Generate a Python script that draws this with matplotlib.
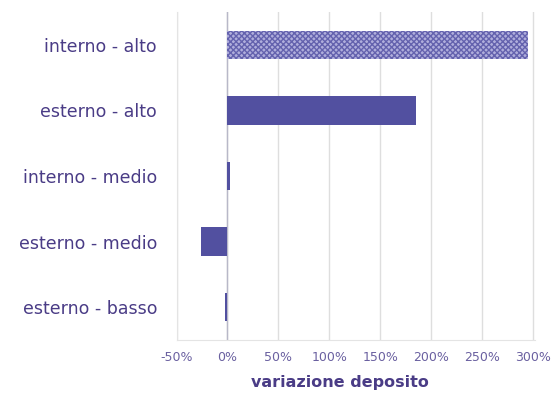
import matplotlib
matplotlib.use("Agg")
import matplotlib.pyplot as plt
from matplotlib.ticker import FuncFormatter

plt.rcParams['font.family'] = ['DejaVu Sans']

categories = ["interno - alto", "esterno - alto", "interno - medio",
              "esterno - medio", "esterno - basso"]
values = [295, 185, 3, -26, -2]
xticks = [-50, 0, 50, 100, 150, 200, 250, 300]

bar_color = "#5250a0"
text_color = "#4a3c86"

fig = plt.figure(figsize=(5.57, 4.07), dpi=100)
ax = fig.add_axes([176.5 / 557, 1 - 340 / 407, (535 - 176.5) / 557, (340 - 12) / 407])

ypos = list(range(len(categories)))[::-1]
bars = ax.barh(ypos, values, height=0.43, color=bar_color, zorder=3)
# first bar is patterned
bars[0].set_facecolor("#b0aedc")
bars[0].set_edgecolor("#6462ae")
bars[0].set_hatch("xxxxxx")
bars[0].set_linewidth(0)

ax.set_xlim(-50, 302)
ax.set_ylim(-0.5, len(categories) - 0.5)
ax.set_xticks(xticks)
ax.xaxis.set_major_formatter(FuncFormatter(lambda v, p: f"{int(v)}%"))
ax.set_yticks(ypos)
ax.set_yticklabels(categories)

ax.grid(axis="x", color="#dedede", linewidth=1, zorder=0)
ax.axvline(0, color="#b8b8c8", linewidth=1, zorder=2)
for s in ["top", "right"]:
    ax.spines[s].set_visible(False)
for s in ["left", "bottom"]:
    ax.spines[s].set_color("#e4e4e4")

ax.tick_params(axis="y", length=0, pad=14, labelsize=12.5, labelcolor=text_color)
ax.tick_params(axis="x", length=0, pad=8, labelsize=9, labelcolor="#6a60a0")
ax.set_xlabel("variazione deposito", fontsize=11.5, fontweight="bold",
              color=text_color)
ax.xaxis.set_label_coords((340 - 176.5) / (535 - 176.5), -(383 - 340) / 328, transform=ax.transAxes)
ax.xaxis.label.set_va("center")

fig.savefig("out.png", dpi=100, facecolor="white")
